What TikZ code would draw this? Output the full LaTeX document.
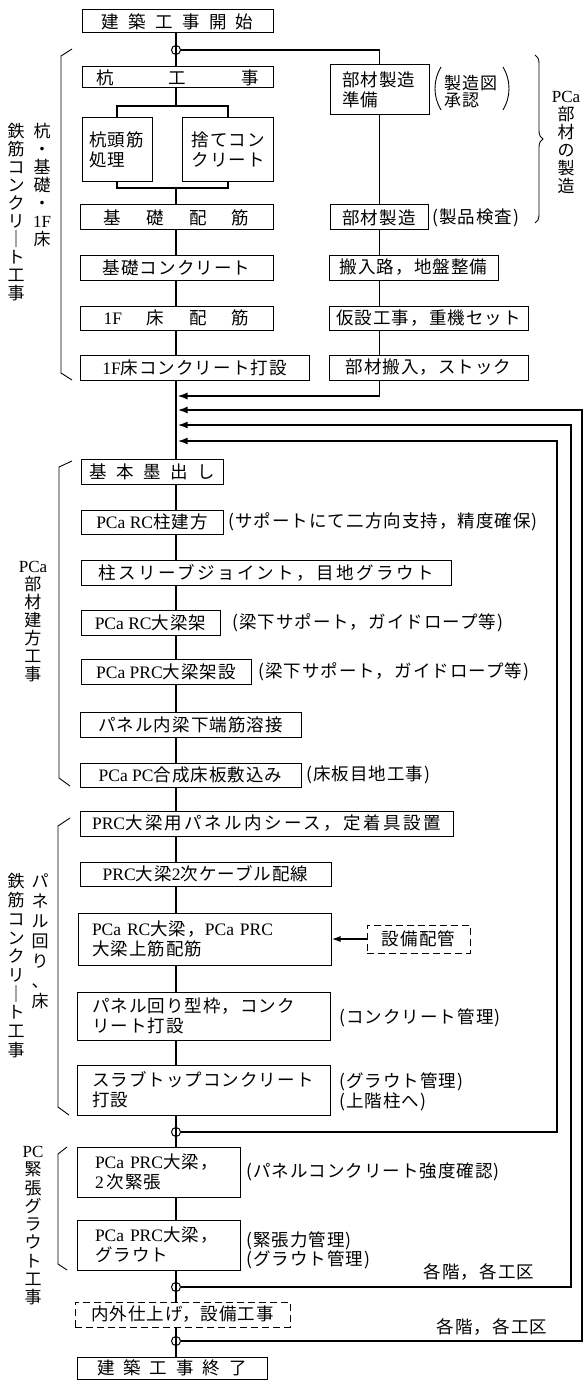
\documentclass[tikz,border=0pt]{standalone}
\usepackage{fontspec}
\setmainfont{Noto Sans CJK JP}[LetterSpace=6]
\newfontfamily\lat{Liberation Serif}
\newfontfamily\jpwide{Noto Sans CJK JP}[LetterSpace=14]
\usetikzlibrary{arrows.meta,decorations.pathreplacing}
\begin{document}
\begin{tikzpicture}[x=1pt,y=-1pt,
  box/.style={draw,line width=1pt,inner sep=0pt,font=\fontsize{17.5}{20}\selectfont},
  dbox/.style={box,dash pattern=on 7pt off 4pt},
  flow/.style={line width=2pt},
  rline/.style={line width=1.6pt},
  arr/.style={-{Latex[length=10pt,width=7pt]}},
  note/.style={inner sep=0pt,anchor=west,font=\fontsize{17.5}{20}\selectfont},
  vlab/.style={inner sep=0pt,anchor=north,align=center,font=\fontsize{17}{18}\selectfont},
  brk/.style={line width=0.9pt},
  junc/.style={draw,circle,line width=1pt,minimum size=9pt,inner sep=0pt}
]
\useasboundingbox[fill=white] (0,0) rectangle (583,1380);
\coordinate (M) at (176,0);
\coordinate (R) at (379.5,0);

% ---- foundation part
\node[box,minimum width=191pt,minimum height=23pt] (start) at (177.5,21.5) {\makebox[152pt]{建\hfill 築\hfill 工\hfill 事\hfill 開\hfill 始}};
\node[box,minimum width=191pt,minimum height=21pt] (kui) at (177.5,77.5) {\makebox[163pt]{杭\hfill 工\hfill 事}};
\node[box,align=left,text width=56pt,minimum width=70pt,minimum height=64pt] (kuito) at (117,150) {杭頭筋\\処理};
\node[box,align=left,text width=72pt,minimum width=91pt,minimum height=64pt] (sute) at (227.5,150) {捨てコン\\クリート};
\node[box,minimum width=193pt,minimum height=25pt] (kiso) at (176.5,217.5) {\makebox[146pt]{基\hfill 礎\hfill 配\hfill 筋}};
\node[box,minimum width=193pt,minimum height=25pt] (kisoc) at (176.5,267.5) {基礎コンクリート};
\node[box,minimum width=193pt,minimum height=24pt] (yuka) at (176.5,318) {\makebox[146pt]{{\lat 1F}\hfill 床\hfill 配\hfill 筋}};
\node[box,minimum width=229pt,minimum height=25pt] (yukac) at (194.5,367.5) {{\lat 1F}床コンクリート打設};

% ---- PCa member production column
\node[box,align=left,text width=75pt,minimum width=99pt,minimum height=50pt] (bz1) at (379.5,90) {部材製造\\準備};
\node[box,minimum width=98pt,minimum height=25pt] (bz2) at (379,217.5) {部材製造};
\node[box,minimum width=169pt,minimum height=25pt] (hannyu) at (413.5,267.5) {搬入路，地盤整備};
\node[box,minimum width=199pt,minimum height=24pt] (kasetsu) at (428.5,318) {仮設工事，重機セット};
\node[box,minimum width=199pt,minimum height=25pt] (buzai) at (428.5,367.5) {部材搬入，ストック};

% ---- PCa erection
\node[box,minimum width=142pt,minimum height=25pt] (sumi) at (152,471.5) {\makebox[126pt]{基\hfill 本\hfill 墨\hfill 出\hfill し}};
\node[box,minimum width=142pt,minimum height=24pt] (hashira) at (152,522) {{\lat PCa RC}柱建方};
\node[box,minimum width=370pt,minimum height=25pt] (sleeve) at (266,572.5) {\jpwide 柱スリーブジョイント，目地グラウト};
\node[box,minimum width=139pt,minimum height=25pt] (rcbeam) at (150.5,622.5) {{\lat PCa RC}大梁架};
\node[box,minimum width=170pt,minimum height=25pt] (prcbeam) at (166,671.5) {{\lat PCa PRC}大梁架設};
\node[box,minimum width=221pt,minimum height=25pt] (panel) at (190.5,724.5) {パネル内梁下端筋溶接};
\node[box,minimum width=221pt,minimum height=24pt] (slab) at (190.5,775) {{\lat PCa PC}合成床板敷込み};

% ---- panel / slab RC
\node[box,minimum width=373pt,minimum height=25pt] (sheath) at (266.5,823.5) {{\lat PRC}{\jpwide 大梁用パネル内シース，定着具設置}};
\node[box,minimum width=251pt,minimum height=24pt] (cable) at (205.5,874) {{\lat PRC}大梁{\lat 2}次ケーブル配線};
\node[box,align=left,text width=225pt,minimum width=253pt,minimum height=52pt] (topbar) at (204.5,939) {{\lat PCa RC}大梁，{\lat PCa PRC}\\大梁上筋配筋};
\node[dbox,minimum width=103pt,minimum height=28pt] (setsubi) at (418.5,939) {設備配管};
\node[box,align=left,text width=223pt,minimum width=253pt,minimum height=48pt] (paneru) at (203.5,1016) {パネル回り型枠，コンク\\リート打設};
\node[box,align=left,text width=223pt,minimum width=253pt,minimum height=50pt] (slabtop) at (203.5,1090) {スラブトップコンクリート\\打設};

% ---- PC / grout
\node[box,align=left,text width=127pt,minimum width=163pt,minimum height=50pt] (kinchou) at (158.5,1172) {{\lat PCa PRC}大梁，\\{\lat 2}\,次緊張};
\node[box,align=left,text width=127pt,minimum width=163pt,minimum height=50pt] (grout) at (158.5,1245) {{\lat PCa PRC}大梁，\\グラウト};
\node[dbox,minimum width=215pt,minimum height=25pt] (naigai) at (182.5,1314.5) {内外仕上げ，設備工事};
\node[box,minimum width=190pt,minimum height=22pt] (finish) at (172,1368) {\makebox[150pt]{建\hfill 築\hfill 工\hfill 事\hfill 終\hfill 了}};

% ---- junction circles
\node[junc] (c0) at (176,50) {};
\node[junc] (c1) at (176,1132) {};
\node[junc] (c2) at (176,1287) {};
\node[junc] (c3) at (176,1341) {};

\coordinate (m1) at (177.5,396);
\coordinate (m2) at (177.5,410);
\coordinate (m3) at (177.5,425);
\coordinate (m4) at (177.5,441);
\coordinate (o1) at (582,1341);
\coordinate (o2) at (571,1287);
\coordinate (o3) at (557,1132);
\coordinate (s1) at (117,106);
\coordinate (s2) at (227.5,106);
\coordinate (j1) at (117,188);
\coordinate (j2) at (227.5,188);

% ---- main flow line
\foreach \a/\b in {start/kui, kiso/kisoc, kisoc/yuka, yuka/yukac, yukac/sumi, sumi/hashira, hashira/sleeve, sleeve/rcbeam, rcbeam/prcbeam, prcbeam/panel, panel/slab, slab/sheath, sheath/cable, cable/topbar, topbar/paneru, paneru/slabtop, slabtop/kinchou, kinchou/grout, grout/naigai, naigai/finish}
  \draw[flow] (\a.south -| M) -- (\b.north -| M);
\draw[flow] (kui.south -| M) -- (s1 -| M);
\draw[flow] (kuito.north) -- (s1) -- (s2) -- (sute.north);
\draw[flow] (kuito.south) -- (j1) -- (j2) -- (sute.south);
\draw[flow] (j1 -| M) -- (kiso.north -| M);

% ---- right column
\draw[rline] (c0.east) -| (bz1.north);
\foreach \a/\b in {bz1/bz2, bz2/hannyu, hannyu/kasetsu, kasetsu/buzai}
  \draw[rline] (\a.south -| R) -- (\b.north -| R);
\draw[rline,arr] (buzai.south -| R) |- (m1);

% ---- repeat loops
\draw[flow,arr] (c3.east) -- (o1) |- (m2);
\draw[flow,arr] (c2.east) -- (o2) |- (m3);
\draw[flow,arr] (c1.east) -- (o3) |- (m4);

\draw[rline,-{Latex[length=9pt,width=6pt]}] (setsubi.west) -- (topbar.east |- setsubi.west);

% ---- brackets
\draw[brk] (72,49) -- (61,56) -- (61,373) -- (72,380);
\draw[brk] (72,461) -- (59,467) -- (59,778) -- (70,786);
\draw[brk] (70,818) -- (58,826) -- (58,1107) -- (69,1115);
\draw[brk] (67,1147) -- (58,1154) -- (58,1264) -- (67,1270);
\draw[brk,decorate,decoration={brace,amplitude=8pt}] (535,55) -- (535,223);
\draw[brk] (441,67) .. controls (433,80) and (433,97) .. (441,110);
\draw[brk] (503,67) .. controls (511,80) and (511,97) .. (503,110);

% ---- vertical labels
\node[vlab] (lab1r) at (42,123.5) {杭\\・\\基\\礎\\・\\{\lat 1F}\\床};
\node[vlab] (lab1l) at (16,123.5) {鉄\\筋\\コ\\ン\\ク\\リ\\｜\\ト\\工\\事};
\node[vlab] (lab2) at (33,561) {{\lat PCa}\\部\\材\\建\\方\\工\\事};
\node[vlab,font=\fontsize{17}{20}\selectfont] (lab3r) at (40,873.5) {パ\\ネ\\ル\\回\\り\\、\\床};
\node[vlab,font=\fontsize{17}{18.7}\selectfont] (lab3l) at (16,873.5) {鉄\\筋\\コ\\ン\\ク\\リ\\｜\\ト\\工\\事};
\node[vlab,font=\fontsize{17}{18.3}\selectfont] (lab4) at (33,1146) {{\lat PC}\\緊\\張\\グ\\ラ\\ウ\\ト\\工\\事};
\node[vlab] (lab5) at (566,91) {{\lat PCa}\\部\\材\\の\\製\\造};

% ---- annotations
\node[note,align=left,font=\fontsize{17}{17}\selectfont] (n10) at (444,91.5) {製造図\\承認};
\node[note] (n9) at (432,217.5) {(製品検査)};
\node[note] (n1) at (228,522) {(サポートにて二方向支持，精度確保)};
\node[note] (n2) at (232,622.5) {(梁下サポート，ガイドロープ等)};
\node[note] (n3) at (258,671.5) {(梁下サポート，ガイドロープ等)};
\node[note] (n4) at (306,775) {(床板目地工事)};
\node[note] (n5) at (339,1018) {(コンクリート管理)};
\node[note,align=left] (n6) at (339,1092) {(グラウト管理)\\(上階柱へ)};
\node[note] (n7) at (246,1172) {(パネルコンクリート強度確認)};
\node[note,align=left,font=\fontsize{17.5}{17}\selectfont] (n8) at (246,1250) {(緊張力管理)\\(グラウト管理)};
\node[note,anchor=center] (k1) at (479,1272) {各階，各工区};
\node[note,anchor=center] (k2) at (492,1327) {各階，各工区};
\end{tikzpicture}
\end{document}
